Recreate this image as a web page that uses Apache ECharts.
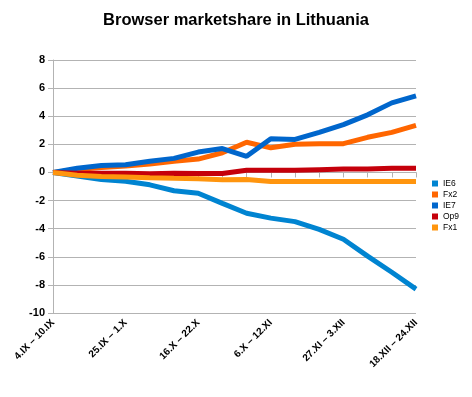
<!DOCTYPE html>
<html>
<head>
<meta charset="utf-8">
<script src="https://cdn.jsdelivr.net/npm/echarts@6/dist/echarts.min.js"></script>
<style>
html,body{margin:0;padding:0;background:#fff;}
#c{width:472px;height:397px;}
</style>
</head>
<body>
<div id="c"></div>
<script>
const categories = [
  "4.IX – 10.IX", "11.IX – 17.IX", "18.IX – 24.IX", "25.IX – 1.X",
  "2.X – 8.X", "9.X – 15.X", "16.X – 22.X", "23.X – 29.X",
  "30.X – 5.XI", "6.X – 12.XI", "13.XI – 19.XI", "20.XI – 26.XI",
  "27.XI – 3.XII", "4.XII – 10.XII", "11.XII – 17.XII", "18.XII – 24.XII"
];
const seriesNames = ["IE6", "Fx2", "IE7", "Op9", "Fx1"];
const ie6 = [0, -0.25, -0.5, -0.62, -0.88, -1.3, -1.48, -2.2, -2.9, -3.25, -3.5, -4.05, -4.75, -5.95, -7.1, -8.3];
const fx2 = [0, 0.2, 0.35, 0.45, 0.6, 0.8, 0.95, 1.4, 2.15, 1.75, 2.0, 2.05, 2.05, 2.5, 2.85, 3.35];
const ie7 = [0, 0.3, 0.5, 0.55, 0.8, 1.0, 1.45, 1.7, 1.15, 2.4, 2.35, 2.85, 3.4, 4.1, 4.95, 5.45];
const op9 = [0, -0.05, -0.05, -0.05, -0.1, -0.05, -0.08, -0.08, 0.15, 0.15, 0.15, 0.2, 0.25, 0.25, 0.3, 0.3];
const fx1 = [0, -0.2, -0.28, -0.32, -0.38, -0.42, -0.45, -0.52, -0.5, -0.65, -0.65, -0.65, -0.65, -0.65, -0.65, -0.65];
const yTicks = { min: -10, max: 8, interval: 2 };

const colors = ["#0084d1", "#ff6600", "#0066cc", "#c5000b", "#ff950e"];
const values = [ie6, fx2, ie7, op9, fx1];

const chart = echarts.init(document.getElementById('c'), null, { renderer: 'canvas' });
const font = '"Liberation Sans", Arial, sans-serif';
chart.setOption({
  animation: false,
  backgroundColor: '#ffffff',
  color: colors,
  title: {
    text: 'Browser marketshare in Lithuania',
    left: 'center',
    top: 7,
    textStyle: { fontFamily: font, fontSize: 16.5, fontWeight: 'bold', color: '#000' }
  },
  legend: {
    orient: 'vertical',
    left: 432,
    top: 179,
    padding: 0,
    itemWidth: 6,
    itemHeight: 6,
    itemGap: 2,
    icon: 'rect',
    textStyle: { fontFamily: font, fontSize: 8.5, color: '#000', padding: [0, 0, 0, 0] },
    data: seriesNames
  },
  grid: { left: 53, right: 56, top: 60, bottom: 84, containLabel: false },
  xAxis: {
    type: 'category',
    data: categories,
    boundaryGap: false,
    axisLine: { lineStyle: { color: '#b3b3b3', width: 1 } },
    axisTick: { show: true, interval: 0, length: 5, lineStyle: { color: '#b3b3b3' } },
    axisLabel: {
      interval: 2,
      rotate: 45,
      margin: 8,
      fontFamily: font,
      fontSize: 10,
      fontWeight: 'bold',
      color: '#000'
    },
    splitLine: { show: false }
  },
  yAxis: {
    type: 'value',
    min: yTicks.min,
    max: yTicks.max,
    interval: yTicks.interval,
    axisLine: { show: true, lineStyle: { color: '#b3b3b3' } },
    axisTick: { show: true, length: 5, lineStyle: { color: '#b3b3b3' } },
    axisLabel: { fontFamily: font, fontSize: 11, fontWeight: 'bold', color: '#000', margin: 8 },
    splitLine: { show: true, lineStyle: { color: '#b3b3b3', width: 1 } }
  },
  series: seriesNames.map((n, i) => ({
    name: n,
    type: 'line',
    data: values[i],
    showSymbol: false,
    symbol: 'none',
    lineStyle: { width: 5, color: colors[i] },
    itemStyle: { color: colors[i] },
    z: 2
  }))
});
</script>
</body>
</html>
